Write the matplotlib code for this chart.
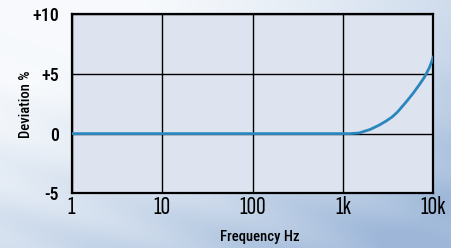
import numpy as np
import matplotlib
matplotlib.use("Agg")
import matplotlib.pyplot as plt

# Data
freq_hz = [1, 10, 100, 1000, 1200, 1500, 2000, 2500, 3000, 3500, 4000, 5000, 6000, 7000, 8000, 9000, 9500, 10000]
deviation_pct = [0, 0, 0, 0, 0.0, 0.05, 0.35, 0.7, 1.05, 1.4, 1.8, 2.65, 3.4, 4.1, 4.75, 5.5, 5.95, 6.45]
x_ticks = [1, 10, 100, 1000, 10000]
x_tick_labels = ["1", "10", "100", "1k", "10k"]
y_ticks = [-5, 0, 5, 10]
y_tick_labels = ["-5", "0", "+5", "+10"]

fam = ["Roboto Condensed", "DejaVu Sans"]
fam_x = ["Sofia Sans Extra Condensed", "Roboto Condensed", "DejaVu Sans"]

fig = plt.figure(figsize=(4.52, 2.48), dpi=100)

# background gradient
bg = fig.add_axes([0, 0, 1, 1], zorder=-10)
bg.axis("off")
H, W = 248, 452
yy, xx = np.mgrid[0:H, 0:W]
t = np.clip(0.55 * (xx / W) ** 1.5 + 0.55 * (yy / H) ** 1.5 + 0.15 * (xx / W) * (yy / H) - 0.1, 0, 1)
streak = 0.06 * np.sin((xx * 0.35 - yy) / 9.0) * (yy / H)
t = np.clip(t + streak, 0, 1)
c0 = np.array([0.97, 0.98, 0.99])
c1 = np.array([0.62, 0.72, 0.85])
img = c0[None, None, :] * (1 - t[..., None]) + c1[None, None, :] * t[..., None]
bg.imshow(img, aspect="auto", extent=[0, 1, 0, 1], transform=bg.transAxes)

ax = fig.add_axes([0.1586, 0.2206, 0.8001, 0.7217])
ax.set_facecolor("#dde3ef")
ax.plot(freq_hz, deviation_pct, color="#2a86bd", lw=2.0, solid_capstyle="round", zorder=3)
ax.set_xscale("log")
ax.set_xlim(1, 10000)
ax.set_ylim(-5, 10)
ax.set_xticks(x_ticks)
ax.set_xticklabels(x_tick_labels, family=fam_x, fontsize=19, weight="medium")
ax.minorticks_off()
ax.set_yticks(y_ticks)
ax.set_yticklabels(y_tick_labels, family=fam, fontsize=13, weight="medium")
ax.tick_params(length=0, pad=2)
ax.tick_params(axis="y", pad=9)
ax.grid(True, color="black", lw=1.0)
for s in ax.spines.values():
    s.set_linewidth(1.6)
    s.set_color("black")

fig.text(260 / 452, 1 - 237.5 / 248, "Frequency Hz", family=fam, fontsize=10.5,
         weight="medium", ha="center", va="center")
fig.text(25.7 / 452, 1 - 104 / 248, "Deviation %", family=fam, fontsize=10.5,
         weight="medium", ha="center", va="center", rotation=90)

fig.savefig("out.png", dpi=100)
